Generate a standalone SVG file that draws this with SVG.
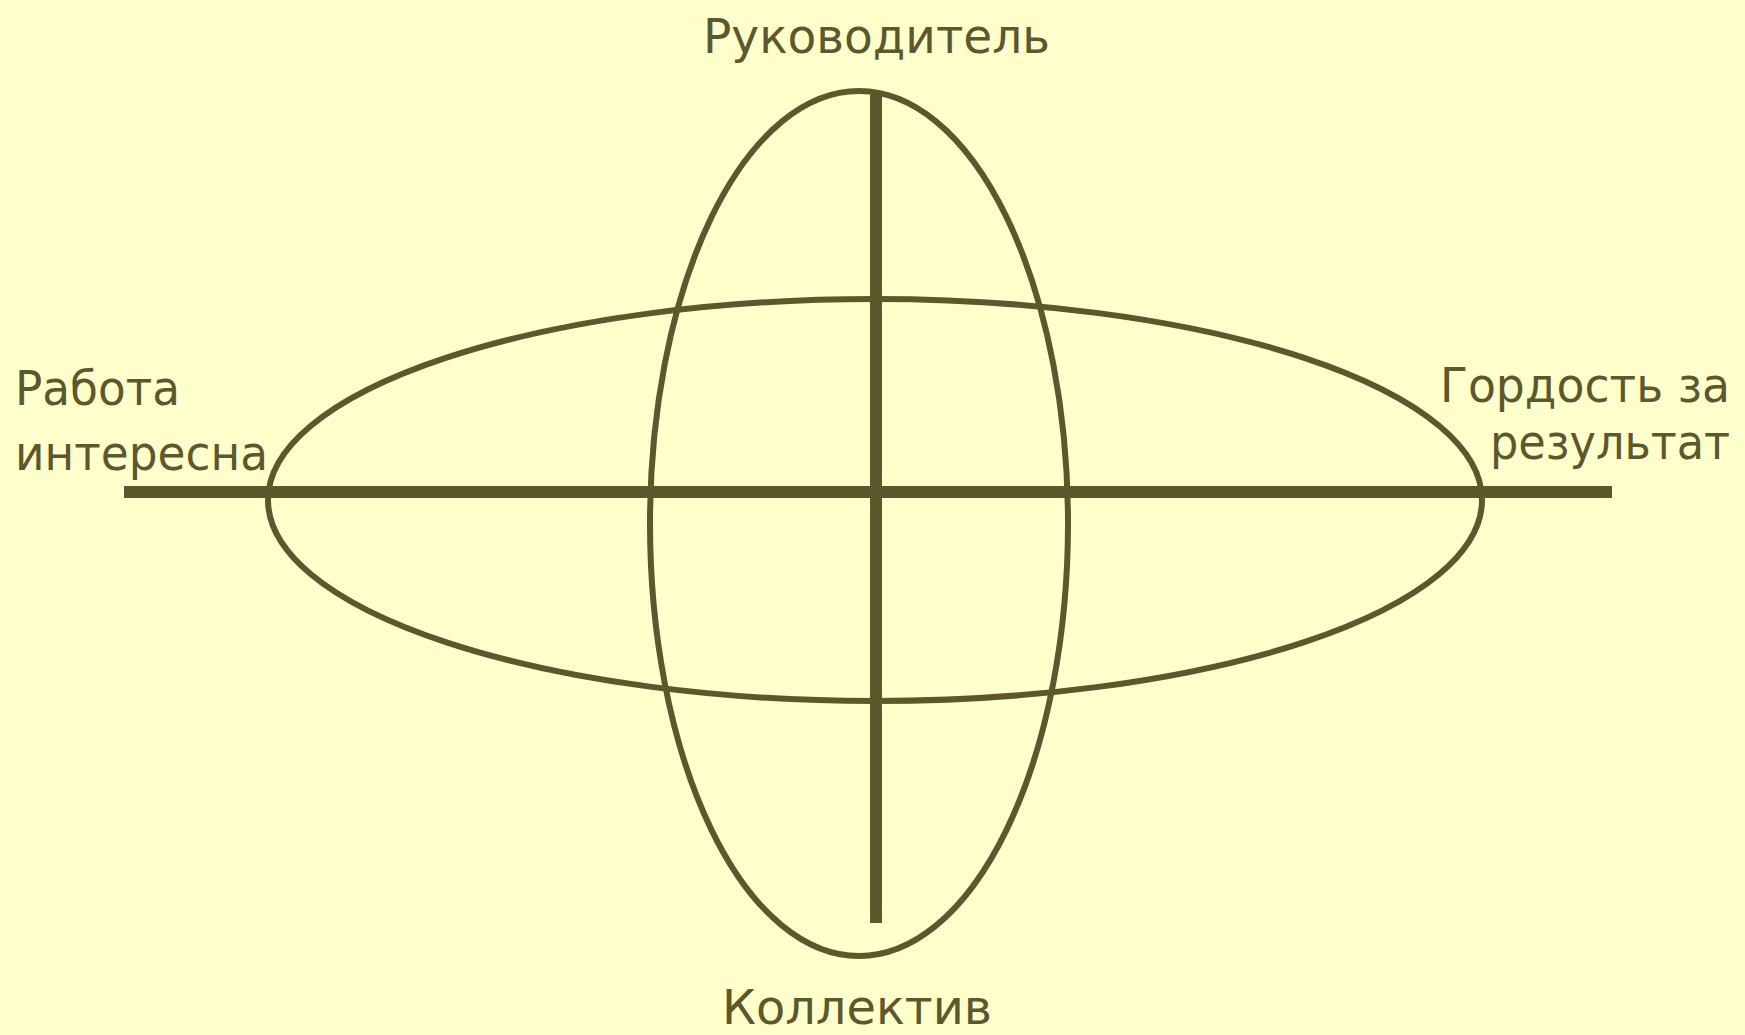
<svg xmlns="http://www.w3.org/2000/svg" width="1745" height="1035" viewBox="0 0 1745 1035">
<style>
.shape{fill:none;stroke:#5C572C;stroke-width:6}
.axis{stroke:#5C572C;stroke-width:12}
.lbl{font-family:"Comic Sans MS","DejaVu Sans",sans-serif;font-size:48px;fill:#5C572C}
</style>
<rect width="1745" height="1035" fill="#FFFFCC"/>
<g id="ellipses">
<ellipse id="vertical-ellipse" class="shape" cx="859" cy="523.5" rx="209" ry="432.5"/>
<ellipse id="horizontal-ellipse" class="shape" cx="875" cy="500" rx="607" ry="201"/>
</g>
<g id="connectors">
<line class="axis" x1="124" y1="492" x2="1612" y2="492"/>
<line class="axis" x1="876" y1="95" x2="876" y2="923"/>
</g>
<g id="node-top"><text class="lbl" x="703" y="53" textLength="347" lengthAdjust="spacingAndGlyphs">Руководитель</text></g>
<g id="node-left">
<text class="lbl" x="15" y="405" textLength="165" lengthAdjust="spacingAndGlyphs">Работа</text>
<text class="lbl" x="15" y="470" textLength="253" lengthAdjust="spacingAndGlyphs">интересна</text>
</g>
<g id="node-right">
<text class="lbl" x="1440" y="402" textLength="290" lengthAdjust="spacingAndGlyphs">Гордость за</text>
<text class="lbl" x="1490" y="459" textLength="240" lengthAdjust="spacingAndGlyphs">результат</text>
</g>
<g id="node-bottom"><text class="lbl" x="722" y="1024" textLength="270" lengthAdjust="spacingAndGlyphs">Коллектив</text></g>
</svg>
